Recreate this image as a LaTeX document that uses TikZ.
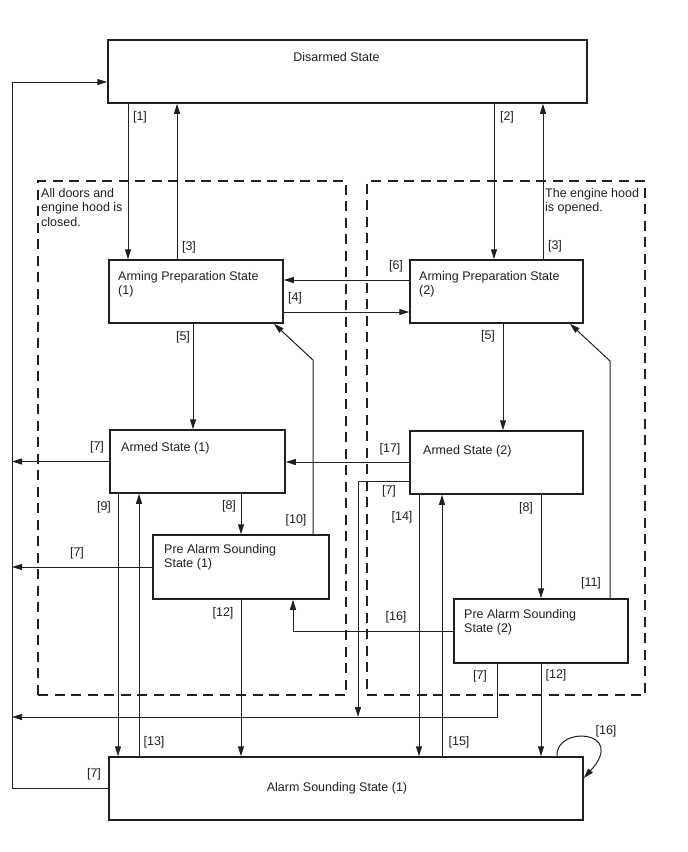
\documentclass[tikz,border=0pt]{standalone}
\usepackage{fontspec}
\setmainfont{Liberation Sans}
\usetikzlibrary{arrows.meta}
\definecolor{ink}{HTML}{231F20}
\newcommand\fsz{\fontsize{12.5}{14.5}\selectfont}
\begin{document}
\begin{tikzpicture}[x=1pt,y=-1pt,
  stbox/.style={draw=ink, line width=1.5pt, inner sep=0pt, rectangle},
  region/.style={draw=ink, line width=1.8pt, dash pattern=on 10pt off 6.5pt, inner sep=0pt, rectangle},
  txt/.style={inner sep=0pt, anchor=north west, align=left, font=\fsz, text=ink},
  lbl/.style={inner sep=0pt, font=\fsz, text=ink},
  conn/.style={draw=ink, line width=1pt},
  arr/.style={conn, -{Triangle[length=10pt,width=6pt]}},
]
\useasboundingbox (0,0) rectangle (688,852);
\fill[white] (0,0) rectangle (688,852);

% regions
\node[region, minimum width=308pt, minimum height=514pt] (regL) at (192,438) {};
\node[region, minimum width=278pt, minimum height=514pt] (regR) at (506,438) {};
\node[txt] (regLt) at (41,188) {All doors and\\engine hood is\\closed.};
\node[txt] (regRt) at (545,188) {The engine hood\\is opened.};

% states
\node[stbox, minimum width=479pt, minimum height=63pt] (dis) at (347.5,71.5) {};
\node[stbox, minimum width=174pt, minimum height=63pt] (aps1) at (196,291.5) {};
\node[stbox, minimum width=173pt, minimum height=63pt] (aps2) at (496.5,291.5) {};
\node[stbox, minimum width=175pt, minimum height=63pt] (arm1) at (197.5,461.5) {};
\node[stbox, minimum width=173pt, minimum height=63pt] (arm2) at (496.5,462.5) {};
\node[stbox, minimum width=176pt, minimum height=64pt] (pre1) at (241,567) {};
\node[stbox, minimum width=174pt, minimum height=64pt] (pre2) at (541,631) {};
\node[stbox, minimum width=474pt, minimum height=63pt] (alarm) at (346,788.5) {};

\node[lbl] (dist) at (336.5,57) {Disarmed State};
\node[txt] (aps1t) at (118,271) {Arming Preparation State\\(1)};
\node[txt] (aps2t) at (419,271) {Arming Preparation State\\(2)};
\node[txt] (arm1t) at (121,442) {Armed State (1)};
\node[txt] (arm2t) at (423,445) {Armed State (2)};
\node[txt] (pre1t) at (164,544) {Pre Alarm Sounding\\State (1)};
\node[txt] (pre2t) at (464,609) {Pre Alarm Sounding\\State (2)};
\node[lbl] (alarmt) at (337,788) {Alarm Sounding State (1)};

% rail coordinates
\coordinate (railtop) at (12,82);
\coordinate (railbot) at (12,788);
\coordinate (r717) at (12,717);
\coordinate (j7) at (358,717);

% left rail
\draw[arr] (alarm.west |- railbot) -- (railbot) -- (railtop) -- (dis.west |- railtop);
\node[lbl] (l7e) at (94,774) {[7]};

% top transitions
\draw[arr] (dis.south -| 128,0) -- (aps1.north -| 128,0);
\node[lbl] (l1) at (140,117) {[1]};
\draw[arr] (aps1.north -| 177,0) -- (dis.south -| 177,0);
\node[lbl] (l3a) at (189,247) {[3]};
\draw[arr] (dis.south -| 494,0) -- (aps2.north -| 494,0);
\node[lbl] (l2) at (507,117) {[2]};
\draw[arr] (aps2.north -| 543,0) -- (dis.south -| 543,0);
\node[lbl] (l3b) at (555,246) {[3]};

% between arming prep states
\draw[arr] (aps2.west |- 0,280) -- (aps1.east |- 0,280);
\node[lbl] (l6) at (396,266) {[6]};
\draw[arr] (aps1.east |- 0,312) -- (aps2.west |- 0,312);
\node[lbl] (l4) at (295,298) {[4]};

% [5]
\draw[arr] (aps1.south -| 193,0) -- (arm1.north -| 193,0);
\node[lbl] (l5a) at (183,337) {[5]};
\draw[arr] (aps2.south -| 503,0) -- (arm2.north -| 503,0);
\node[lbl] (l5b) at (488,336) {[5]};

% armed (1)
\draw[arr] (arm1.west) -- (arm1.west -| railtop);
\node[lbl] (l7a) at (97,447) {[7]};
\draw[arr] (arm1.south -| 118,0) -- (alarm.north -| 118,0);
\node[lbl] (l9) at (104,507) {[9]};
\draw[arr] (alarm.north -| 139,0) -- (arm1.south -| 139,0);
\node[lbl] (l13) at (154,742) {[13]};
\draw[arr] (arm1.south -| 241,0) -- (pre1.north -| 241,0);
\node[lbl] (l8a) at (229,506) {[8]};

% pre alarm (1)
\draw[arr] (pre1.north -| 313,0) -- (313,360) -- (aps1.south -| 274,0);
\node[lbl] (l10) at (296,520) {[10]};
\draw[arr] (pre1.west) -- (pre1.west -| railtop);
\node[lbl] (l7b) at (77,553) {[7]};
\draw[arr] (pre1.south -| 241,0) -- (alarm.north -| 241,0);
\node[lbl] (l12a) at (223,613) {[12]};

% armed (2)
\draw[arr] (arm2.west |- 0,462) -- (arm1.east |- 0,462);
\node[lbl] (l17) at (390,449) {[17]};
\draw[arr] (arm2.west |- 0,481) -| (j7);
\node[lbl] (l7c) at (389,491) {[7]};
\draw[arr] (arm2.south -| 419,0) -- (alarm.north -| 419,0);
\node[lbl] (l14) at (402,517) {[14]};
\draw[arr] (alarm.north -| 442,0) -- (arm2.south -| 442,0);
\node[lbl] (l15) at (459,742) {[15]};
\draw[arr] (arm2.south -| 541,0) -- (pre2.north -| 541,0);
\node[lbl] (l8b) at (526,508) {[8]};

% pre alarm (2)
\draw[arr] (pre2.north -| 610,0) -- (610,361) -- (aps2.south -| 570,0);
\node[lbl] (l11) at (591,583) {[11]};
\draw[arr] (pre2.west |- 0,631) -| (pre1.south -| 293,0);
\node[lbl] (l16a) at (396,617) {[16]};
\draw[arr] (pre2.south -| 497,0) |- (r717);
\node[lbl] (l7d) at (480,676) {[7]};
\draw[arr] (pre2.south -| 541,0) -- (alarm.north -| 541,0);
\node[lbl] (l12b) at (556,675) {[12]};

% self loop
\draw[arr] (alarm.north -| 557,0) .. controls (555,725) and (628,730) .. (alarm.east |- 0,778);
\node[lbl] (l16b) at (606,731) {[16]};
\end{tikzpicture}
\end{document}
